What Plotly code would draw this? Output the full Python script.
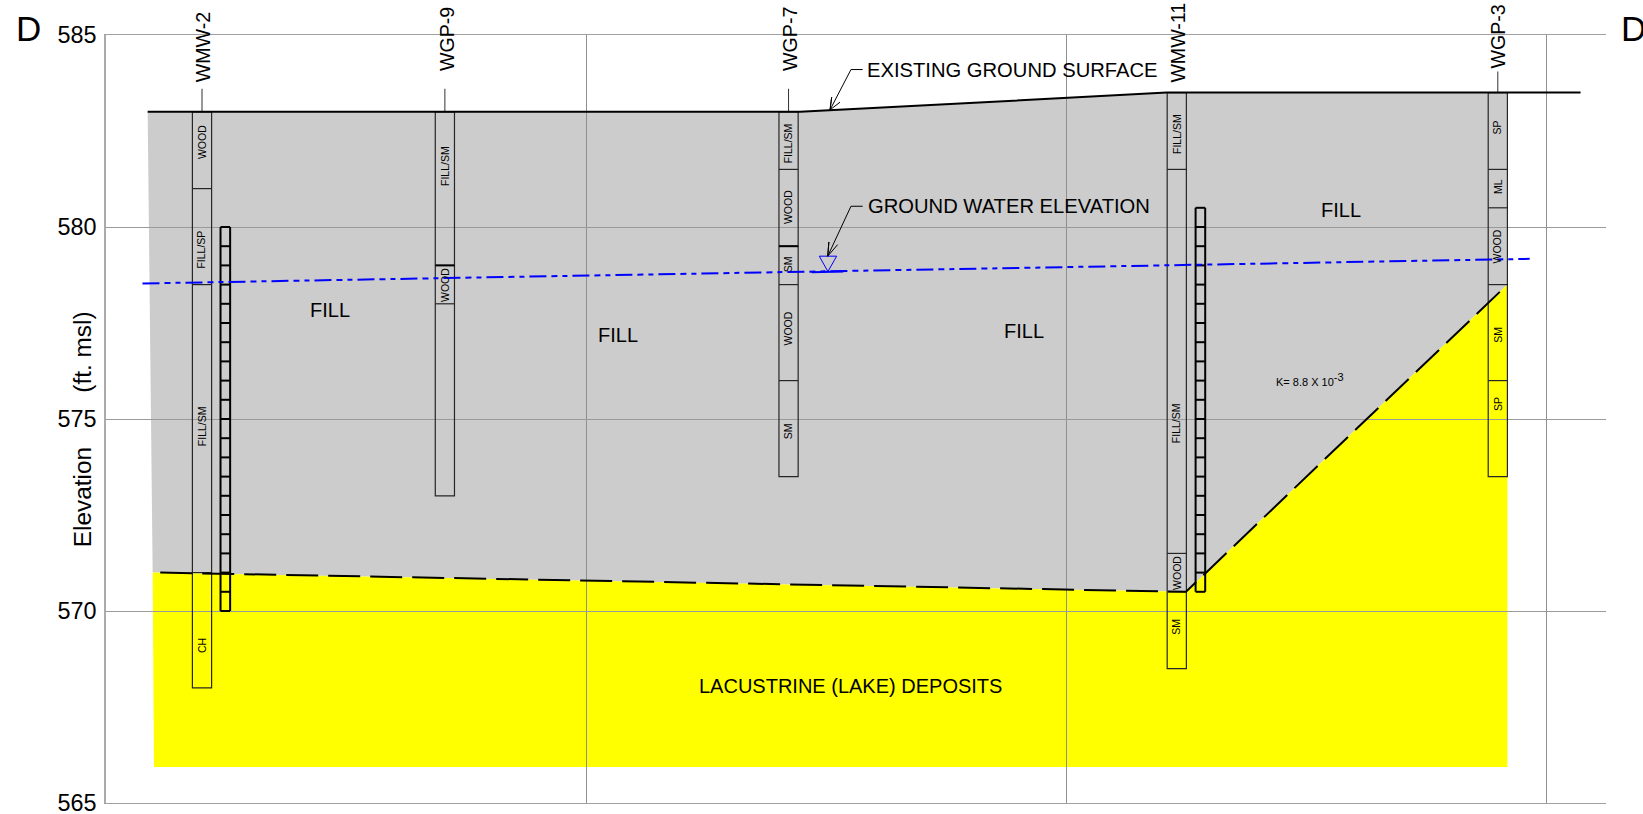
import plotly.graph_objects as go

FONT = "Liberation Sans"

# Axis
y_ticks = [565, 570, 575, 580, 585]
x_grid = [0, 500, 1000, 1500]

# Cross-section geometry (distance, elevation)
fill_x = [43.4, 723, 1105, 1459.8, 1459.8, 1125, 48.6]
fill_y = [583, 583, 583.5, 583.5, 578.5, 570.5, 571]
lake_x = [48.6, 1125, 1459.8, 1459.8, 50]
lake_y = [571, 570.5, 578.5, 565.94, 565.94]
surface_x = [43.4, 723, 1105, 1536]
surface_y = [583, 583, 583.5, 583.5]
contact_x = [56.5, 1125, 1459.8]
contact_y = [571, 570.5, 578.5]
water_x = [38, 1483]
water_y = [578.53, 579.17]

# Borings
boring_names = ["WMW-2", "WGP-9", "WGP-7", "WMW-11", "WGP-3"]
boring_x = [100, 353, 711, 1115.4, 1449.8]
boring_half = 10
boring_layers = [
    [583, 581, 578.5, 571, 568],
    [583, 579, 578, 573],
    [583, 581.5, 579.5, 578.5, 576, 573.5],
    [583.5, 581.5, 571.5, 570.5, 568.5],
    [583.5, 581.5, 580.5, 578.5, 576, 573.5],
]
boring_labels = [
    ["WOOD", "FILL/SP", "FILL/SM", "CH"],
    ["FILL/SM", "WOOD"],
    ["FILL/SM", "WOOD", "SM", "WOOD", "SM"],
    ["FILL/SM", "FILL/SM", "WOOD", "SM"],
    ["SP", "ML", "WOOD", "SM", "SP"],
]
boring_label_y = [
    [582.2, 579.4, 574.8, 569.1],
    [581.6, 578.5],
    [582.18, 580.52, 579.03, 577.36, 574.68],
    [582.43, 574.9, 571, 569.6],
    [582.6, 581.05, 579.5, 577.2, 575.4],
]
name_x = [101, 355, 713.2, 1117, 1450.4]
name_y = [584.68, 584.89, 584.89, 584.81, 584.97]
leader_x = [100, 353, 711, 1449.8]
leader_top = [583.6, 583.6, 583.6, 584.05]
leader_bottom = [583, 583, 583, 583.5]
heavy_x = [353, 711]
heavy_y = [579, 579.5]

# Well screens
screen_x = [124.3, 1140]
screen_half = 5
screen_rungs = [
    [570, 570.5, 571, 571.5, 572, 572.5, 573, 573.5, 574, 574.5, 575, 575.5, 576, 576.5, 577,
     577.5, 578, 578.5, 579, 579.5, 580],
    [570.5, 571, 571.5, 572, 572.5, 573, 573.5, 574, 574.5, 575, 575.5, 576, 576.5, 577, 577.5,
     578, 578.5, 579, 579.5, 580, 580.5],
]

# Callouts
surface_arrow_x = [788.2, 776, 754.2, 755.9, 754.2, 764.6]
surface_arrow_y = [584.1, 584.1, 583.05, 583.38, 583.05, 583.25]
water_arrow_x = [788.2, 776, 751.8, 753, 751.8, 762.1]
water_arrow_y = [580.54, 580.54, 579.24, 579.61, 579.24, 579.54]
triangle_x = [743, 761.1, 752, 743]
triangle_y = [579.24, 579.24, 578.84, 579.24]
triangle_base_x = [735, 768]
triangle_base_y = [578.82, 578.84]

fill_labels = ["FILL", "FILL", "FILL", "FILL"]
fill_label_x = [233, 533, 956, 1286]
fill_label_y = [577.85, 577.2, 577.3, 580.45]

fig = go.Figure()


def path(xs, ys):
    return "M " + " L ".join(f"{a},{b}" for a, b in zip(xs, ys)) + " Z"


for xs, ys, colour in ((fill_x, fill_y, "#cccccc"), (lake_x, lake_y, "#ffff00")):
    fig.add_shape(type="path", path=path(xs, ys), xref="x", yref="y", layer="below",
                  fillcolor=colour, line_width=0)


def line(xs, ys, colour="#000000", width=1.0, dash="solid"):
    fig.add_trace(go.Scatter(x=xs, y=ys, mode="lines", showlegend=False, hoverinfo="skip",
                             line=dict(color=colour, width=width, dash=dash)))


def text(x, y, s, size, angle=0, anchor="center", colour="#000000", xref="x", yref="y"):
    fig.add_annotation(x=x, y=y, xref=xref, yref=yref, text=s, showarrow=False, textangle=angle,
                       xanchor=anchor, yanchor="middle", borderpad=0, borderwidth=0,
                       font=dict(family=FONT, size=size, color=colour))


# Borings
for cx, layers, labels, label_y in zip(boring_x, boring_layers, boring_labels, boring_label_y):
    xs, ys = [cx - boring_half, cx - boring_half, cx + boring_half, cx + boring_half,
              cx - boring_half, None], [layers[0], layers[-1], layers[-1], layers[0], layers[0], None]
    for e in layers[1:-1]:
        xs += [cx - boring_half, cx + boring_half, None]
        ys += [e, e, None]
    line(xs, ys, "#262626", 1.2)
    for lab, ly in zip(labels, label_y):
        text(cx - 0.5, ly, lab, 10.5, angle=-90)

for cx, e in zip(heavy_x, heavy_y):
    line([cx - boring_half, cx + boring_half], [e, e], "#000000", 2)

for x, t, b in zip(leader_x, leader_top, leader_bottom):
    line([x, x], [t, b], "#333333", 1)

# Well screens
for cx, rungs in zip(screen_x, screen_rungs):
    xs = [cx - screen_half, cx - screen_half, None, cx + screen_half, cx + screen_half, None]
    ys = [rungs[0], rungs[-1], None, rungs[0], rungs[-1], None]
    for e in rungs:
        xs += [cx - screen_half, cx + screen_half, None]
        ys += [e, e, None]
    line(xs, ys, "#000000", 2)

# Surface, contact, water
line(surface_x, surface_y, "#000000", 2)
line(contact_x, contact_y, "#000000", 2, "32px,10px")
line(water_x, water_y, "#0000ff", 2, "17px,5px,6px,5px,5px,5px")
line(triangle_base_x, triangle_base_y, "#0000ff", 2)
line(triangle_x, triangle_y, "#0000ff", 1)
line(surface_arrow_x, surface_arrow_y, "#000000", 1)
line(water_arrow_x, water_arrow_y, "#000000", 1)

# Texts
for n, x, y in zip(boring_names, name_x, name_y):
    text(x, y, n, 19.6, angle=-90)
for s, x, y in zip(fill_labels, fill_label_x, fill_label_y):
    text(x, y, s, 20)
text(793, 584.1, "EXISTING GROUND SURFACE", 20.2, anchor="left")
text(794, 580.54, "GROUND WATER ELEVATION", 20.2, anchor="left")
text(776, 568.04, "LACUSTRINE (LAKE) DEPOSITS", 20)
text(1254, 576.03, "K= 8.8 X 10<sup><span style='font-size:11px'>-3</span></sup>", 11)
text(-0.0515, 1.0079, "D", 35, xref="paper", yref="paper")
text(1.01, 1.0079, "D", 35, anchor="left", xref="paper", yref="paper")
text(-0.01566, 574.72, "Elevation" + "\u00a0" * 8 + "(ft. msl)", 24.4, angle=-90, xref="paper")

fig.update_layout(
    width=1643, height=814, autosize=False,
    margin=dict(l=105.8, r=37, t=34.6, b=11.4, pad=0),
    paper_bgcolor="#ffffff", plot_bgcolor="#ffffff", showlegend=False,
    font=dict(family=FONT, color="#000000"),
    xaxis=dict(range=[0, 1562.5], tickmode="array", tickvals=x_grid, showticklabels=False,
               showgrid=True, gridcolor="#8f8f8f", gridwidth=1, zeroline=False,
               showline=True, mirror=True, linecolor="#a0a0a0", linewidth=1, ticks=""),
    yaxis=dict(range=[565, 585], tickmode="array", tickvals=y_ticks, ticktext=[str(v) for v in y_ticks],
               showgrid=True, gridcolor="#9a9a9a", gridwidth=1, zeroline=False,
               showline=True, linecolor="#ababab", linewidth=1.5, ticks="",
               ticklabelstandoff=3, ticklabeloverflow="allow",
               tickfont=dict(family=FONT, size=23.4, color="#000000"), automargin=False),
)

fig.write_html("out.html", config={"displayModeBar": False},
               post_script="document.body.style.margin='0';document.body.style.overflow='hidden';")
